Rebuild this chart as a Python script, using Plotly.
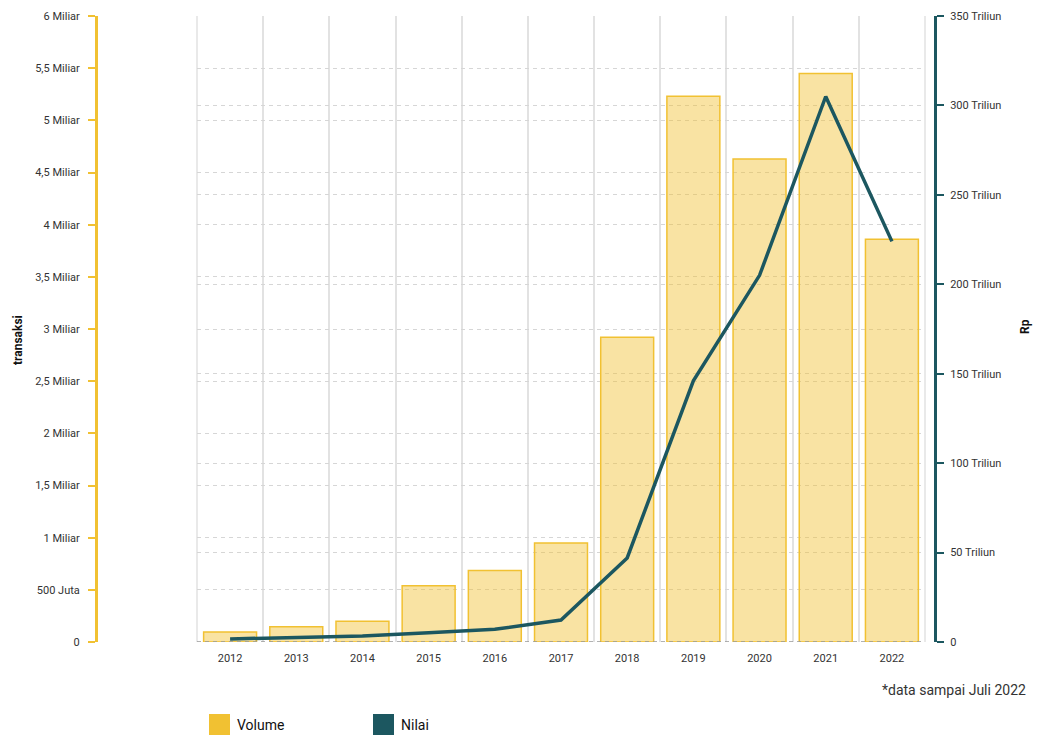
import plotly.graph_objects as go

# Transaction volume (billions) and value (trillion rupiah) per year
years = [2012, 2013, 2014, 2015, 2016, 2017, 2018, 2019, 2020, 2021, 2022]
volume_miliar = [0.095, 0.145, 0.20, 0.54, 0.685, 0.95, 2.92, 5.23, 4.63, 5.45, 3.86]
nilai_triliun = [1.7, 2.6, 3.4, 5.2, 7.1, 12.3, 47, 146, 205, 305, 224]

vol_tick_vals = [0, 0.5, 1, 1.5, 2, 2.5, 3, 3.5, 4, 4.5, 5, 5.5, 6]
vol_tick_text = ["0", "500 Juta", "1 Miliar", "1,5 Miliar", "2 Miliar", "2,5 Miliar",
                 "3 Miliar", "3,5 Miliar", "4 Miliar", "4,5 Miliar", "5 Miliar",
                 "5,5 Miliar", "6 Miliar"]
nilai_tick_vals = [0, 50, 100, 150, 200, 250, 300, 350]
nilai_tick_text = ["0", "50 Triliun", "100 Triliun", "150 Triliun", "200 Triliun",
                   "250 Triliun", "300 Triliun", "350 Triliun"]

YELLOW = "#F1C132"
TEAL = "#1C5760"
TXT = "#333333"
FONT = "Roboto"
VGRID = "#E2E2E2"

W, H = 1038, 735
TOP, BOTTOM = 16, 642          # plot area in pixels
x0, x1 = 197 / W, 925 / W


def px(x):
    return x / W


def py(y):
    # paper y measured against the plot area
    return (BOTTOM - y) / (BOTTOM - TOP)


fig = go.Figure()
fig.add_trace(go.Bar(
    x=years, y=volume_miliar, name="Volume", width=0.8,
    marker=dict(color="rgba(241,193,50,0.45)", line=dict(color=YELLOW, width=1.5)),
    yaxis="y", showlegend=False,
))
fig.add_trace(go.Scatter(
    x=years, y=nilai_triliun, name="Nilai", mode="lines",
    line=dict(color=TEAL, width=3.5), yaxis="y2", showlegend=False,
))

GRID_DASH = "4px,4px"

fig.update_layout(
    width=W, height=H, autosize=False,
    margin=dict(l=0, r=0, t=TOP, b=H - BOTTOM),
    paper_bgcolor="white", plot_bgcolor="white",
    font=dict(family=FONT, size=11, color=TXT),
    xaxis=dict(
        domain=[x0, x1], range=[2011.5, 2022.5],
        tickvals=years, ticktext=[str(y) for y in years],
        showgrid=False, zeroline=False, showline=False, ticks="",
        ticklabelstandoff=8,
        tickfont=dict(family=FONT, size=11, color=TXT),
        minor=dict(tickvals=[y + 0.5 for y in years[:-1]],
                   showgrid=True, gridcolor=VGRID, gridwidth=1.5),
    ),
    yaxis=dict(
        range=[0, 6], anchor="free", position=px(96), side="left",
        tickvals=vol_tick_vals, ticktext=vol_tick_text,
        showline=True, linecolor=YELLOW, linewidth=3,
        ticks="outside", ticklen=7, tickwidth=1.5, tickcolor=YELLOW,
        ticklabelstandoff=6,
        showgrid=True, gridcolor="#D6D6D6", griddash=GRID_DASH, gridwidth=1,
        zeroline=False, automargin=False,
        tickfont=dict(family=FONT, size=11, color=TXT),
    ),
    yaxis2=dict(
        range=[0, 350], anchor="free", position=px(935), side="right",
        overlaying="y",
        tickvals=nilai_tick_vals, ticktext=nilai_tick_text,
        showline=True, linecolor=TEAL, linewidth=3,
        ticks="outside", ticklen=7, tickwidth=1.5, tickcolor=TEAL,
        ticklabelstandoff=4,
        showgrid=True, gridcolor="#D6D6D6", griddash=GRID_DASH, gridwidth=1,
        zeroline=False, automargin=False,
        tickfont=dict(family=FONT, size=11, color=TXT),
    ),
)

# outer vertical grid lines at both edges of the category band
for edge in (0, 1):
    fig.add_shape(type="line", xref="x domain", yref="y domain",
                  x0=edge, x1=edge, y0=0, y1=1, layer="below",
                  line=dict(color=VGRID, width=1.5))

# dashed baseline along zero
fig.add_shape(type="line", xref="x domain", yref="y", x0=0, x1=1, y0=0, y1=0,
              line=dict(color="#999999", width=1.5, dash=GRID_DASH))

# axis titles
fig.add_annotation(text="<b>transaksi</b>", xref="paper", yref="paper",
                   x=px(18), y=py(340), xanchor="center", yanchor="middle",
                   showarrow=False, textangle=-90,
                   font=dict(family=FONT, size=12, color="#111111"))
fig.add_annotation(text="<b>Rp</b>", xref="paper", yref="paper",
                   x=px(1025), y=py(327), xanchor="center", yanchor="middle",
                   showarrow=False, textangle=-90,
                   font=dict(family=FONT, size=12, color="#111111"))

# footnote
fig.add_annotation(text="*data sampai Juli 2022", xref="paper", yref="paper",
                   x=px(1028), y=py(690), xanchor="right", yanchor="middle",
                   showarrow=False, font=dict(family=FONT, size=14, color=TXT))

# legend
legend_items = [("Volume", YELLOW, 209), ("Nilai", TEAL, 373)]
for label, color, lx in legend_items:
    fig.add_shape(type="rect", xref="paper", yref="paper",
                  x0=px(lx), x1=px(lx + 21), y0=py(737), y1=py(714),
                  line=dict(width=0), fillcolor=color)
    fig.add_annotation(text=label, xref="paper", yref="paper",
                       x=px(lx + 26), y=py(725), xanchor="left", yanchor="middle",
                       showarrow=False, font=dict(family=FONT, size=14, color="#111111"))

fig.write_html("out.html")
